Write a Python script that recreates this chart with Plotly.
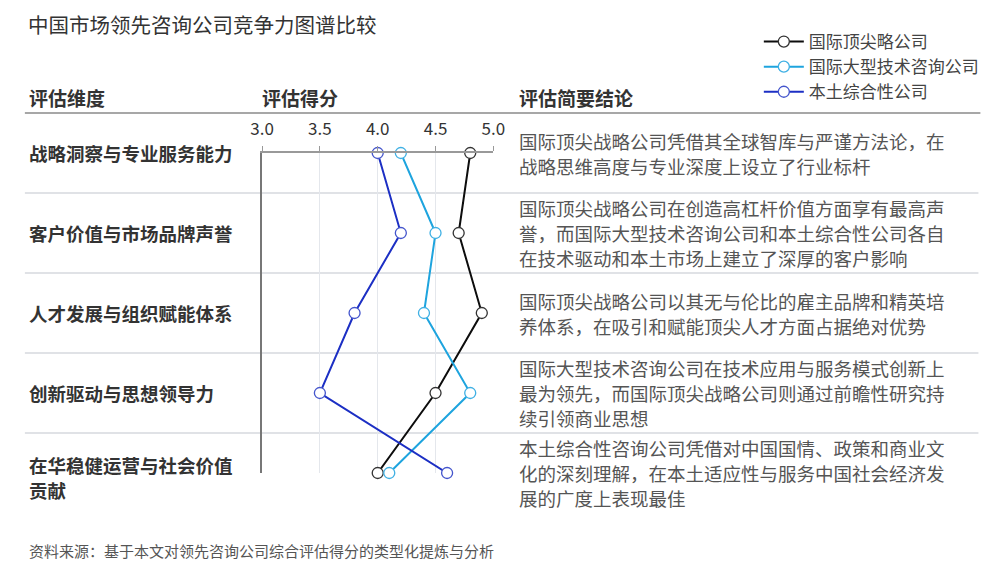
import plotly.graph_objects as go

W, H = 1000, 570

title = "中国市场领先咨询公司竞争力图谱比较"
source = "资料来源：基于本文对领先咨询公司综合评估得分的类型化提炼与分析"
headers = ["评估维度", "评估得分", "评估简要结论"]

dimensions = [
    "战略洞察与专业服务能力",
    "客户价值与市场品牌声誉",
    "人才发展与组织赋能体系",
    "创新驱动与思想领导力",
    "在华稳健运营与社会价值贡献",
]
dimension_labels = [
    "战略洞察与专业服务能力",
    "客户价值与市场品牌声誉",
    "人才发展与组织赋能体系",
    "创新驱动与思想领导力",
    "在华稳健运营与社会价值\n贡献",
]

series_names = ["国际顶尖略公司", "国际大型技术咨询公司", "本土综合性公司"]
score_top = [4.8, 4.7, 4.9, 4.5, 4.0]
score_tech = [4.2, 4.5, 4.4, 4.8, 4.1]
score_local = [4.0, 4.2, 3.8, 3.5, 4.6]

conclusions = [
    "国际顶尖战略公司凭借其全球智库与严谨方法论，在\n战略思维高度与专业深度上设立了行业标杆",
    "国际顶尖战略公司在创造高杠杆价值方面享有最高声\n誉，而国际大型技术咨询公司和本土综合性公司各自\n在技术驱动和本土市场上建立了深厚的客户影响",
    "国际顶尖战略公司以其无与伦比的雇主品牌和精英培\n养体系，在吸引和赋能顶尖人才方面占据绝对优势",
    "国际大型技术咨询公司在技术应用与服务模式创新上\n最为领先，而国际顶尖战略公司则通过前瞻性研究持\n续引领商业思想",
    "本土综合性咨询公司凭借对中国国情、政策和商业文\n化的深刻理解，在本土适应性与服务中国社会经济发\n展的广度上表现最佳",
]

x_ticks = [3.0, 3.5, 4.0, 4.5, 5.0]
x_ticktext = ["3.0", "3.5", "4.0", "4.5", "5.0"]

colors = ["#0d0d0d", "#1ea4de", "#1c2fc4"]
marker_lines = ["#333333", "#3fb0e4", "#4455cc"]

FONT = "Noto Sans CJK SC"
OFF = 8  # page body margin
LINE_GAP = 25


def px(x):
    return (x - OFF) / W


def py(y):
    return 1 - (y - OFF) / H


fig = go.Figure()
for name, vals, c, mc in zip(series_names, [score_top, score_tech, score_local], colors, marker_lines):
    fig.add_trace(go.Scatter(
        x=vals, y=dimensions, name=name, mode="lines+markers",
        line=dict(color=c, width=2),
        marker=dict(size=11, color="white", line=dict(color=mc, width=1.3)),
        cliponaxis=False,
    ))

fig.update_layout(
    width=W, height=H,
    margin=dict(l=0, r=0, t=0, b=0),
    paper_bgcolor="white", plot_bgcolor="white",
    font=dict(family=FONT, color="#333333"),
    showlegend=True,
    legend=dict(
        x=px(765), y=py(24), xanchor="left", yanchor="top",
        font=dict(family=FONT, size=17, color="#444444"),
        bgcolor="rgba(0,0,0,0)", itemwidth=40, tracegroupgap=4,
    ),
    xaxis=dict(
        domain=[px(256), px(493)], range=[3.0, 5.0], side="top",
        tickvals=x_ticks, ticktext=x_ticktext,
        ticks="outside", ticklen=5, tickcolor="#999999",
        showline=True, linecolor="#999999", linewidth=1.5,
        showgrid=True, gridcolor="#e4e7ec", gridwidth=1,
        zeroline=False,
        tickfont=dict(family=FONT, size=17, color="#333333"),
        ticklabelstandoff=4,
    ),
    yaxis=dict(
        domain=[py(473), py(153)], type="category",
        categoryorder="array", categoryarray=dimensions,
        range=[4, 0], showticklabels=False, ticks="",
        showline=True, linecolor="#777777", linewidth=1.5,
        showgrid=False, zeroline=False,
    ),
)

# header rule
fig.add_shape(type="line", xref="paper", yref="paper", x0=px(13), x1=px(992),
              y0=py(113), y1=py(113), line=dict(color="#8a8a8a", width=1.5))
# row separators
for i in range(len(dimensions) - 1):
    fig.add_shape(type="line", xref="paper", yref="y", x0=px(13), x1=px(990),
                  y0=i + 0.5, y1=i + 0.5, line=dict(color="#d6d9de", width=1.5), layer="below")

# title
fig.add_annotation(text=title, xref="paper", yref="paper", x=px(15), y=py(24),
                   xanchor="left", yanchor="middle", showarrow=False, borderpad=0,
                   font=dict(family=FONT, size=20.5, color="#333333"))
# headers
for h, xp in zip(headers, [15, 254, 517]):
    fig.add_annotation(text="<b>" + h + "</b>", xref="paper", yref="paper", x=px(xp), y=py(97),
                       xanchor="left", yanchor="middle", showarrow=False,
                       font=dict(family=FONT, size=19, color="#333333"))


def add_lines(text, d, xpix, size, color, bold, extra_shift=0.0):
    lines = text.split("\n")
    n = len(lines)
    for k, ln in enumerate(lines):
        shift = -((k - (n - 1) / 2) * LINE_GAP) - extra_shift
        fig.add_annotation(text=("<b>" + ln + "</b>") if bold else ln,
                           xref="paper", yref="y", x=px(xpix), y=d, yshift=shift,
                           xanchor="left", yanchor="middle", showarrow=False, align="left",
                           borderpad=0,
                           font=dict(family=FONT, size=size, color=color))


# dimension labels and conclusions
for i, (d, lab, con) in enumerate(zip(dimensions, dimension_labels, conclusions)):
    add_lines(lab, d, 16, 18.5, "#333333", True, extra_shift=4 if "\n" in lab else 0)
    add_lines(con, d, 518, 18.5, "#555555", False)

# source
fig.add_annotation(text=source, xref="paper", yref="paper", x=px(15), y=py(550),
                   xanchor="left", yanchor="middle", showarrow=False,
                   font=dict(family=FONT, size=15, color="#555555"))

fig.write_html("out.html")
